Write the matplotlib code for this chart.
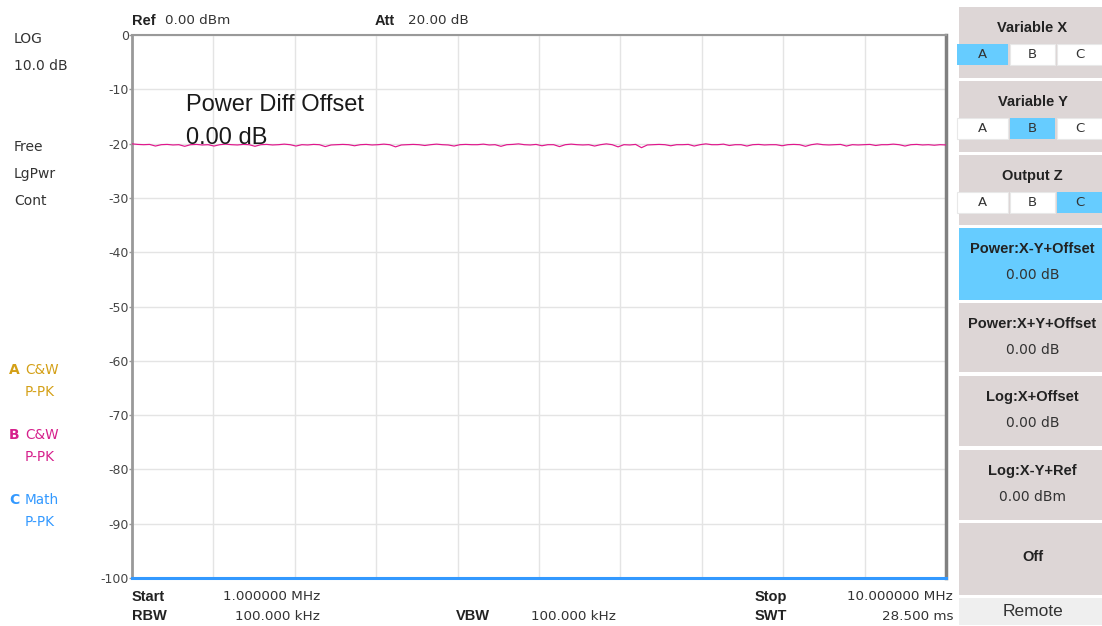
import numpy as np
import matplotlib
matplotlib.use("Agg")
import matplotlib.pyplot as plt
from matplotlib.patches import Rectangle

# ---------------- data ----------------
freq_start_mhz = 1.0
freq_stop_mhz = 10.0
y_ticks = [0, -10, -20, -30, -40, -50, -60, -70, -80, -90, -100]
trace_b = [
    -20.05, -20.15, -20.20, -20.15, -20.45, -20.20, -20.15, -20.25, -20.20, -20.50,
    -20.20, -20.15, -20.25, -20.20, -20.45, -20.20, -20.10, -20.20, -20.25, -20.15,
    -20.20, -20.50, -20.20, -20.15, -20.25, -20.20, -20.10, -20.20, -20.45, -20.20,
    -20.25, -20.15, -20.20, -20.55, -20.25, -20.20, -20.15, -20.20, -20.40, -20.20,
    -20.15, -20.25, -20.20, -20.10, -20.20, -20.60, -20.25, -20.20, -20.15, -20.20,
    -20.35, -20.20, -20.10, -20.20, -20.25, -20.45, -20.20, -20.15, -20.20, -20.20,
    -20.10, -20.25, -20.20, -20.50, -20.20, -20.15, -20.05, -20.20, -20.25, -20.15,
    -20.40, -20.20, -20.20, -20.55, -20.20, -20.10, -20.20, -20.25, -20.20, -20.45,
    -20.20, -20.05, -20.20, -20.60, -20.20, -20.25, -20.15, -20.75, -20.25, -20.20,
    -20.15, -20.20, -20.40, -20.20, -20.20, -20.15, -20.45, -20.20, -20.05, -20.20,
    -20.20, -20.10, -20.35, -20.20, -20.20, -20.45, -20.20, -20.15, -20.25, -20.20,
    -20.20, -20.40, -20.20, -20.15, -20.20, -20.50, -20.20, -20.05, -20.20, -20.25,
    -20.20, -20.15, -20.45, -20.20, -20.25, -20.20, -20.15, -20.35, -20.20, -20.20,
    -20.10, -20.20, -20.45, -20.20, -20.15, -20.25, -20.20, -20.30, -20.20, -20.25,
]
trace_c = [-100.0, -100.0]

W, H = 1102, 626
fig = plt.figure(figsize=(W / 100, H / 100), dpi=100)
fig.patch.set_facecolor("white")

# ---------------- main axes ----------------
L, R, T, B = 132, 946, 35, 578
ax = fig.add_axes([L / W, 1 - B / H, (R - L) / W, (B - T) / H])
x_b = np.linspace(freq_start_mhz, freq_stop_mhz, len(trace_b))
ax.plot(x_b, trace_b, color="#e0168c", lw=0.85, zorder=3)
ax.plot([freq_start_mhz, freq_stop_mhz], trace_c, color="#3399ff", lw=2.2,
        zorder=4, clip_on=False)
ax.set_xlim(freq_start_mhz, freq_stop_mhz)
ax.set_ylim(-100, 0)
ax.set_yticks(y_ticks)
ax.set_yticklabels([str(v) for v in y_ticks], fontsize=9, color="#444444",
                   family="DejaVu Sans")
ax.set_xticks(np.linspace(freq_start_mhz, freq_stop_mhz, 11))
ax.set_xticklabels([])
ax.tick_params(axis="y", length=2, width=1, color="#999999", pad=0)
ax.tick_params(axis="x", length=0)
ax.grid(True, color="#e4e4e4", lw=1)
ax.set_axisbelow(True)
ax.spines["left"].set_color("#999999")
ax.spines["left"].set_linewidth(2)
ax.spines["top"].set_color("#999999")
ax.spines["top"].set_linewidth(1.5)
ax.spines["right"].set_color("#808080")
ax.spines["right"].set_linewidth(2.5)
ax.spines["bottom"].set_visible(False)
ax.text(0.066, 0.872, "Power Diff Offset", transform=ax.transAxes, fontsize=17,
        family="Liberation Sans", color="#1a1a1a", va="center")
ax.text(0.066, 0.811, "0.00 dB", transform=ax.transAxes, fontsize=17,
        family="Liberation Sans", color="#1a1a1a", va="center")

# ---------------- overlay (pixel coordinates) ----------------
ov = fig.add_axes([0, 0, 1, 1], zorder=10)
ov.set_xlim(0, W)
ov.set_ylim(H, 0)
ov.axis("off")
ov.patch.set_visible(False)

def txt(x, y, s, size=10, color="#333333", ha="left", weight="normal",
        family="DejaVu Sans"):
    ov.text(x, y, s, fontsize=size, color=color, ha=ha, va="center",
            fontweight=weight, family=family)

BOLD = dict(size=10.5, weight="bold", family="Liberation Sans", color="#222222")

# left info
for y, s in [(39, "LOG"), (66, "10.0 dB"), (147, "Free"), (174, "LgPwr"),
             (201, "Cont")]:
    txt(14, y, s, size=10)
for y, letter, lab, col in [(370, "A", "C&W", "#d4a017"),
                            (435, "B", "C&W", "#d6208c"),
                            (500, "C", "Math", "#3399ff")]:
    txt(9, y, letter, size=10, color=col, weight="bold")
    txt(25, y, lab, size=9.8, color=col)
    txt(25, y + 22, "P-PK", size=9.8, color=col)

# top info
txt(132, 21, "Ref", **BOLD)
txt(165, 21, "0.00 dBm", size=9.7)
txt(375, 21, "Att", **BOLD)
txt(408, 21, "20.00 dB", size=9.7)

# bottom info
txt(132, 597, "Start", **BOLD)
txt(132, 616, "RBW", **BOLD)
txt(320, 597, "1.000000 MHz", size=9.7, ha="right")
txt(320, 616, "100.000 kHz", size=9.7, ha="right")
txt(456, 616, "VBW", **BOLD)
txt(531, 616, "100.000 kHz", size=9.7)
txt(755, 597, "Stop", **BOLD)
txt(755, 616, "SWT", **BOLD)
txt(953, 597, "10.000000 MHz", size=9.7, ha="right")
txt(953, 616, "28.500 ms", size=9.7, ha="right")

# right soft-key panel
GRAY = "#ddd6d6"
BLUE = "#66ccff"
PX0, PX1 = 959, 1102

def rect(x0, y0, x1, y1, fc, ec="none", lw=0):
    ov.add_patch(Rectangle((x0, y0), x1 - x0, y1 - y0, facecolor=fc,
                           edgecolor=ec, lw=lw))

cx = (PX0 + PX1) / 2
sel_buttons = [("Variable X", 7, 78, 0), ("Variable Y", 81, 152, 1),
               ("Output Z", 155, 225, 2)]
for title, y0, y1, sel in sel_buttons:
    rect(PX0, y0, PX1, y1, GRAY)
    txt(cx + 2, y0 + 21, title, size=10.5, weight="bold",
        family="Liberation Sans", color="#222222", ha="center")
    ry0, ry1 = y0 + 37, y0 + 58
    cells = [(957, 1008, "A"), (1010, 1055, "B"), (1057, 1102, "C")]
    for i, (c0, c1, lab) in enumerate(cells):
        rect(c0, ry0, c1, ry1, BLUE if i == sel else "white",
             ec="#e8e8e8" if i != sel else "none", lw=0.8)
        txt((c0 + c1) / 2, (ry0 + ry1) / 2 + 0.5, lab, size=9.5,
            color="#333333", ha="center")

val_buttons = [("Power:X-Y+Offset", "0.00 dB", 228, 300, BLUE),
               ("Power:X+Y+Offset", "0.00 dB", 303, 372, GRAY),
               ("Log:X+Offset", "0.00 dB", 376, 446, GRAY),
               ("Log:X-Y+Ref", "0.00 dBm", 450, 520, GRAY)]
for title, val, y0, y1, fc in val_buttons:
    rect(PX0, y0, PX1, y1, fc)
    txt(cx + 2, y0 + 21, title, size=10.5, weight="bold",
        family="Liberation Sans", color="#222222", ha="center")
    txt(cx + 2, y0 + 47, val, size=10, color="#333333", ha="center")

rect(PX0, 523, PX1, 595, GRAY)
txt(cx + 2, 557, "Off", size=10.5, weight="bold", family="Liberation Sans",
    color="#222222", ha="center")
rect(PX0, 598, PX1, 625, "#efefef")
txt(cx + 2, 611, "Remote", size=12.5, color="#333333", ha="center",
    family="Liberation Sans")

fig.savefig("out.png", dpi=100, facecolor="white")
